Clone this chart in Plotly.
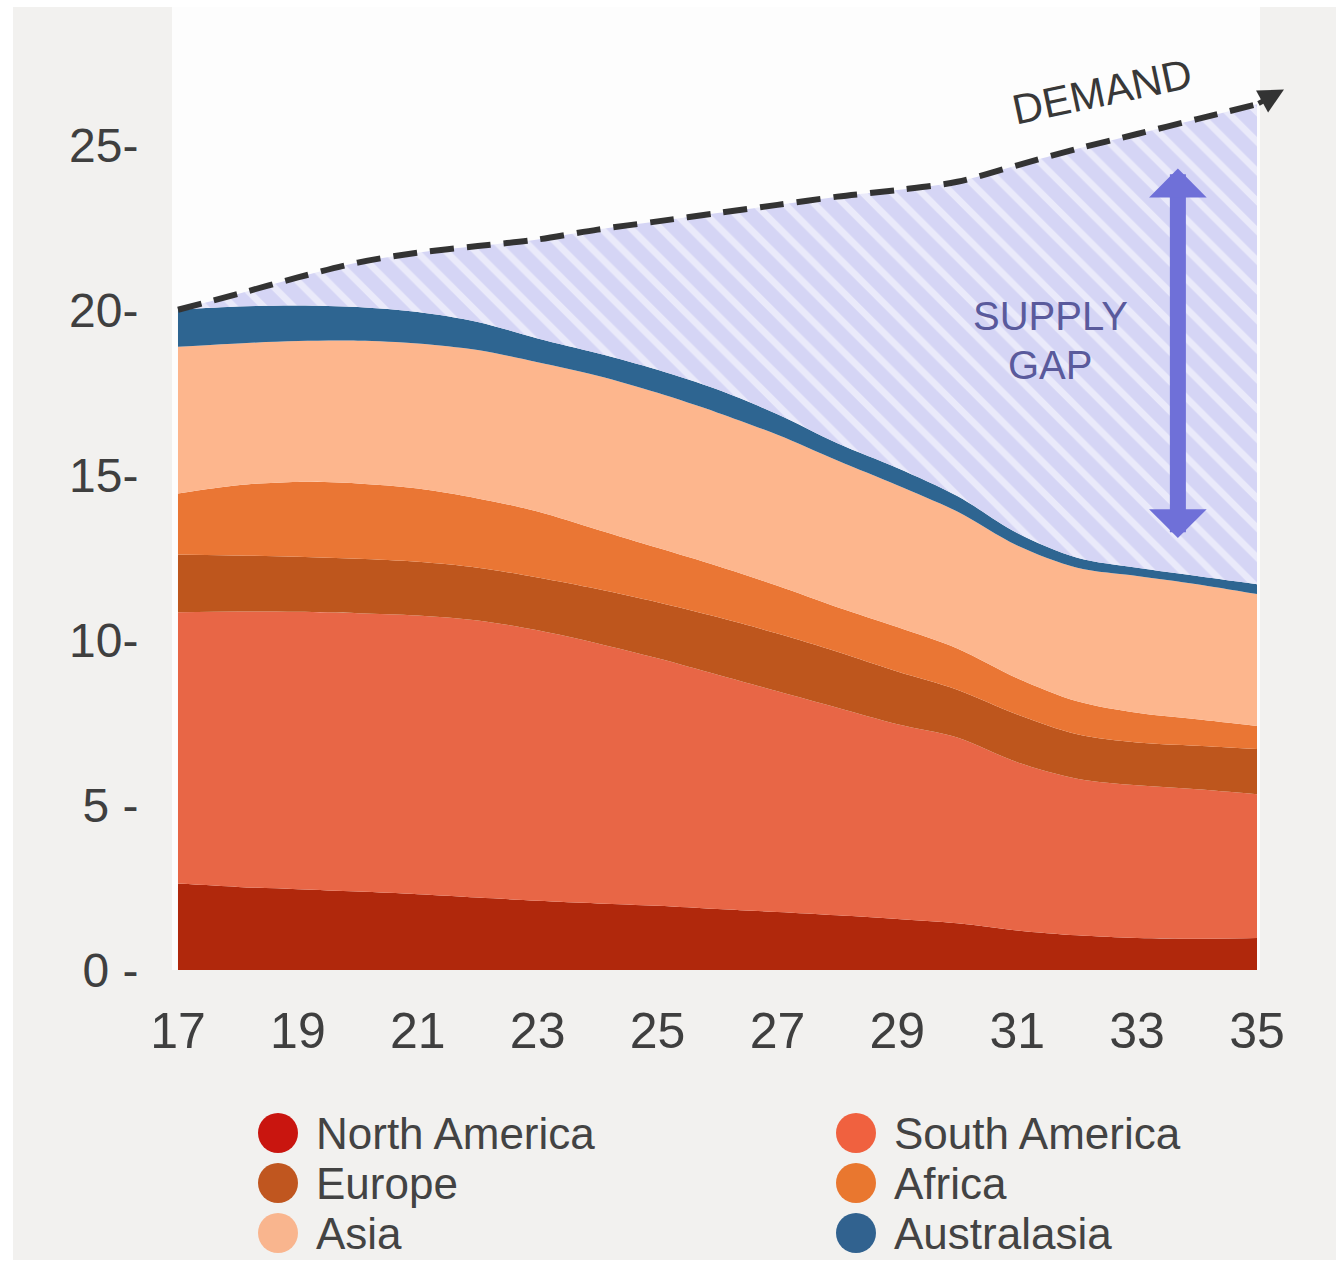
import plotly.graph_objects as go

# ---- data -------------------------------------------------------------
years = list(range(17, 36))

north_america = [2.62, 2.52, 2.45, 2.38, 2.30, 2.20, 2.10, 2.02, 1.95, 1.85,
                 1.76, 1.66, 1.55, 1.42, 1.20, 1.05, 0.97, 0.95, 0.97]
south_america = [8.23, 8.35, 8.41, 8.44, 8.45, 8.40, 8.20, 7.88, 7.50, 7.10,
                 6.69, 6.29, 5.90, 5.63, 5.10, 4.75, 4.63, 4.53, 4.36]
europe = [1.75, 1.70, 1.67, 1.65, 1.63, 1.60, 1.60, 1.65, 1.70, 1.75,
          1.75, 1.70, 1.60, 1.45, 1.45, 1.35, 1.30, 1.32, 1.37]
africa = [1.85, 2.13, 2.27, 2.28, 2.22, 2.10, 2.00, 1.80, 1.65, 1.55,
          1.45, 1.35, 1.35, 1.25, 1.10, 1.00, 0.90, 0.80, 0.70]
asia = [4.45, 4.30, 4.27, 4.33, 4.40, 4.50, 4.53, 4.67, 4.70, 4.65,
        4.58, 4.45, 4.30, 4.15, 4.02, 4.05, 4.15, 4.10, 4.00]
australasia = [1.12, 1.12, 1.08, 1.02, 0.95, 0.85, 0.72, 0.68, 0.70, 0.70,
               0.62, 0.52, 0.52, 0.47, 0.38, 0.30, 0.25, 0.25, 0.30]
demand = [20.02, 20.50, 21.00, 21.45, 21.75, 21.95, 22.15, 22.45, 22.70, 22.95,
          23.20, 23.45, 23.65, 23.90, 24.40, 24.90, 25.35, 25.80, 26.25]

region_names = ["North America", "South America", "Europe",
                "Africa", "Asia", "Australasia"]
region_values = [north_america, south_america, europe, africa, asia, australasia]

x_tick_vals = years[::2]
x_tick_text = [str(y) for y in x_tick_vals]
y_tick_vals = [0, 5, 10, 15, 20, 25]
y_tick_text = ["0 -", "5 -", "10-", "15-", "20-", "25-"]

# ---- styling ----------------------------------------------------------
area_colors = ["#b0280c", "#e86646", "#be561d", "#ea7634", "#fdb68d", "#2e6591"]
legend_colors = ["#c9150f", "#f0613f", "#c0561f", "#e9772f", "#f9b58e", "#31628f"]
FONT = "Liberation Sans"
TEXT = "#3f3f3f"

W, H = 1336, 1273
M_L, M_R, M_T, M_B = 172, 76, 7, 0
plot_w = W - M_L - M_R
plot_h = H - M_T - M_B
main_bottom_px = 970          # pixel row of the x axis
legend_top_px = 1001


def paper_x(px):
    return (px - M_L) / plot_w


def paper_y(py):
    return (H - M_B - py) / plot_h


fig = go.Figure()

# stacked supply areas
for name, vals, color in zip(region_names, region_values, area_colors):
    fig.add_trace(go.Scatter(
        x=years, y=vals, name=name, stackgroup="supply", mode="lines",
        line=dict(width=0, shape="spline", smoothing=0.9),
        fillcolor=color, showlegend=False, hoverinfo="skip"))

# supply total (edge of the gap fill) and demand line with hatched gap
supply_total = [round(sum(v), 2) for v in zip(*region_values)]
fig.add_trace(go.Scatter(
    x=years, y=supply_total, mode="lines",
    line=dict(width=0, shape="spline", smoothing=0.9),
    showlegend=False, hoverinfo="skip"))
fig.add_trace(go.Scatter(
    x=years, y=demand, mode="lines", fill="tonexty",
    fillcolor="#d5d5f5",
    fillpattern=dict(shape="\\", fgcolor="#ffffff", bgcolor="#d5d5f5",
                     size=21, solidity=0.32),
    line=dict(color="#333333", width=6, dash="24px,13px",
              shape="spline", smoothing=0.9),
    showlegend=False, hoverinfo="skip"))

# custom legend with large dots
leg_cols_px = [278, 856]
leg_rows_px = [1133, 1183, 1233]
dot_x, dot_y = [], []
for i in range(len(region_names)):
    dot_x.append(leg_cols_px[i % 2])
    dot_y.append(leg_rows_px[i // 2])
fig.add_trace(go.Scatter(
    x=dot_x, y=dot_y, mode="markers", xaxis="x2", yaxis="y2",
    marker=dict(size=40, color=legend_colors, line=dict(width=0)),
    cliponaxis=False, showlegend=False, hoverinfo="skip"))

annotations = []
for name, xx, yy in zip(region_names, dot_x, dot_y):
    annotations.append(dict(
        x=xx + 36, y=yy, xref="x2", yref="y2", text=name, showarrow=False,
        xanchor="left", yanchor="middle",
        font=dict(family=FONT, size=44, color="#434343")))

# demand label and arrow tip
annotations.append(dict(
    x=32.42, y=26.65, xref="x", yref="y", text="DEMAND", showarrow=False,
    textangle=-12, font=dict(family=FONT, size=42, color="#383838")))
annotations.append(dict(
    x=35.45, y=26.7, xref="x", yref="y", ax=35.0, ay=26.25,
    axref="x", ayref="y", text="", showarrow=True,
    arrowhead=2, arrowsize=1.0, arrowwidth=5, arrowcolor="#333333"))

# supply gap label and double-headed arrow
annotations.append(dict(
    x=31.55, y=19.82, xref="x", yref="y", text="SUPPLY", showarrow=False,
    font=dict(family=FONT, size=40, color="#5a5a9c")))
annotations.append(dict(
    x=31.55, y=18.34, xref="x", yref="y", text="GAP", showarrow=False,
    font=dict(family=FONT, size=40, color="#5a5a9c")))
annotations.append(dict(
    x=33.68, y=24.3, xref="x", yref="y", ax=33.68, ay=13.05,
    axref="x", ayref="y", text="", showarrow=True,
    arrowside="end+start", arrowhead=1, startarrowhead=1,
    arrowsize=0.6, startarrowsize=0.6, arrowwidth=16,
    arrowcolor="#6f70d8"))

shapes = [
    # grey card behind everything
    dict(type="rect", xref="paper", yref="paper",
         x0=paper_x(13), x1=paper_x(W + 5), y0=paper_y(1260), y1=paper_y(7),
         fillcolor="#f2f1ef", line=dict(width=0), layer="below"),
    # white chart panel
    dict(type="rect", xref="x domain", yref="y domain",
         x0=0, x1=1, y0=0, y1=1,
         fillcolor="#fdfdfd", line=dict(width=0), layer="below"),
]

fig.update_layout(
    width=W, height=H,
    margin=dict(l=M_L, r=M_R, t=M_T, b=M_B, autoexpand=False),
    paper_bgcolor="#ffffff", plot_bgcolor="rgba(0,0,0,0)",
    showlegend=False,
    font=dict(family=FONT, color=TEXT),
    xaxis=dict(domain=[0, 1], anchor="y", range=[16.9, 35.05],
               tickvals=x_tick_vals, ticktext=x_tick_text,
               ticks="outside", ticklen=17, tickcolor="rgba(0,0,0,0)",
               tickfont=dict(family=FONT, size=50, color=TEXT),
               showgrid=False, zeroline=False, showline=False, fixedrange=True),
    yaxis=dict(domain=[paper_y(main_bottom_px), 1], anchor="x", range=[0, 29.2],
               tickvals=y_tick_vals, ticktext=y_tick_text,
               ticks="outside", ticklen=23, tickcolor="rgba(0,0,0,0)",
               tickfont=dict(family=FONT, size=48, color=TEXT),
               showgrid=False, zeroline=False, showline=False, fixedrange=True),
    xaxis2=dict(domain=[0, 1], anchor="y2", range=[M_L, W - M_R],
                visible=False, fixedrange=True),
    yaxis2=dict(domain=[0, paper_y(legend_top_px)], anchor="x2",
                range=[H - M_B, legend_top_px], visible=False, fixedrange=True),
    shapes=shapes,
    annotations=annotations,
)

fig.write_html("out.html")
